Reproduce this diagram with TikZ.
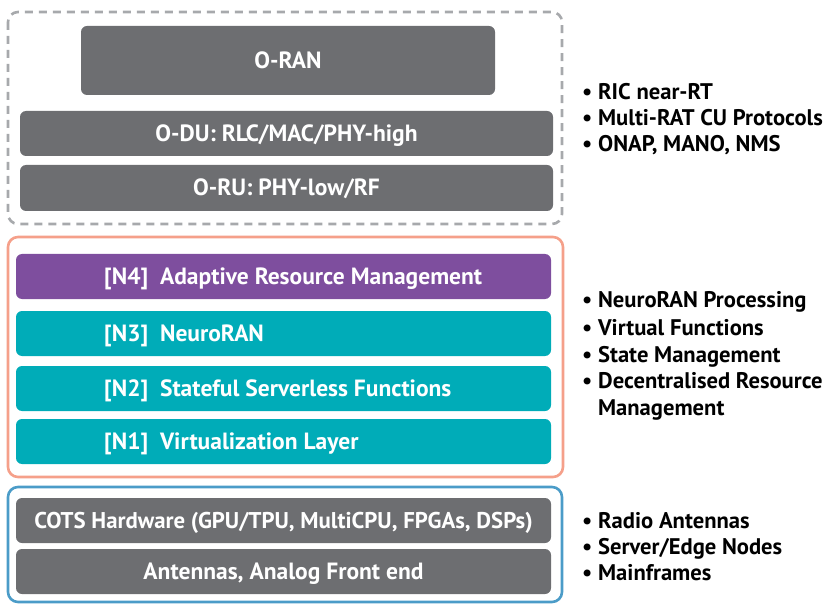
\documentclass[tikz,border=0pt]{standalone}
\usepackage{fontspec}
\setmainfont{PT Sans}
\begin{document}
\begin{tikzpicture}[x=1pt,y=-1pt,
  layer/.style={fill=#1,rounded corners=6pt,draw=none},
  lbl/.style={text=white,font=\fontsize{23.5}{26}\bfseries,inner sep=0pt,anchor=base},
  lblw/.style={lbl,anchor=base west},
  frame/.style={rounded corners=10pt,line width=2.6pt},
  bul/.style={anchor=base west,inner sep=0pt,font=\fontsize{22.6}{26}\bfseries,text=black}]
\definecolor{grayL}{HTML}{6D6E71}
\definecolor{purp}{HTML}{7E4E9E}
\definecolor{teal}{HTML}{00ACB8}
\definecolor{salmon}{HTML}{F5A08A}
\definecolor{blueF}{HTML}{4B9CC8}
\definecolor{dash}{HTML}{A7A9AC}
\useasboundingbox (0,0) rectangle (833,604);
% frames
\draw[frame,draw=dash,dash pattern=on 8pt off 6pt] (8,12) rectangle (562,224);
\draw[frame,draw=salmon] (8,237) rectangle (563,477);
\draw[frame,draw=blueF] (8,487) rectangle (562,602);
% top layers
\fill[layer=grayL] (81,26) rectangle (495,95);
\node[lbl] (oran) at (288,68.5) {O-RAN};
\fill[layer=grayL] (20,111) rectangle (553,156);
\node[lbl] (odu) at (286.5,141.5) {O-DU: RLC/MAC/PHY-high};
\fill[layer=grayL] (20,165) rectangle (553,211);
\node[lbl] (oru) at (286.5,196) {O-RU: PHY-low/RF};
% middle layers
\fill[layer=purp] (16,254) rectangle (551,299);
\node[lblw] (n4) at (104,284.5) {[N4]\ \ Adaptive Resource Management};
\fill[layer=teal] (16,311) rectangle (551,356);
\node[lblw] (n3) at (104,341.5) {[N3]\ \ NeuroRAN};
\fill[layer=teal] (16,366) rectangle (551,411);
\node[lblw] (n2) at (104,396.5) {[N2]\ \ Stateful Serverless Functions};
\fill[layer=teal] (16,419) rectangle (551,464);
\node[lblw] (n1) at (104,449.5) {[N1]\ \ Virtualization Layer};
% bottom layers
\fill[layer=grayL] (16,498) rectangle (551,543);
\node[lbl,font=\fontsize{22.8}{26}\bfseries] (cots) at (283.5,528.5) {COTS Hardware (GPU/TPU, MultiCPU, FPGAs, DSPs)};
\fill[layer=grayL] (16,549) rectangle (551,594);
\node[lbl] (ant) at (283.5,579.5) {Antennas, Analog Front end};
% bullets
\node[bul] (b1a) at (582,100) {\textbullet\ RIC near-RT};
\node[bul] (b1b) at (582,125.5) {\textbullet\ Multi-RAT CU Protocols};
\node[bul] (b1c) at (582,152) {\textbullet\ ONAP, MANO, NMS};
\node[bul] (b2a) at (582,308) {\textbullet\ NeuroRAN Processing};
\node[bul] (b2b) at (582,335) {\textbullet\ Virtual Functions};
\node[bul] (b2c) at (582,362) {\textbullet\ State Management};
\node[bul] (b2d) at (582,388.5) {\textbullet\ Decentralised Resource};
\node[bul] (b2e) at (582,415) {\phantom{\textbullet\ }Management};
\node[bul] (b3a) at (582,528) {\textbullet\ Radio Antennas};
\node[bul] (b3b) at (582,554) {\textbullet\ Server/Edge Nodes};
\node[bul] (b3c) at (582,580) {\textbullet\ Mainframes};
\end{tikzpicture}
\end{document}
